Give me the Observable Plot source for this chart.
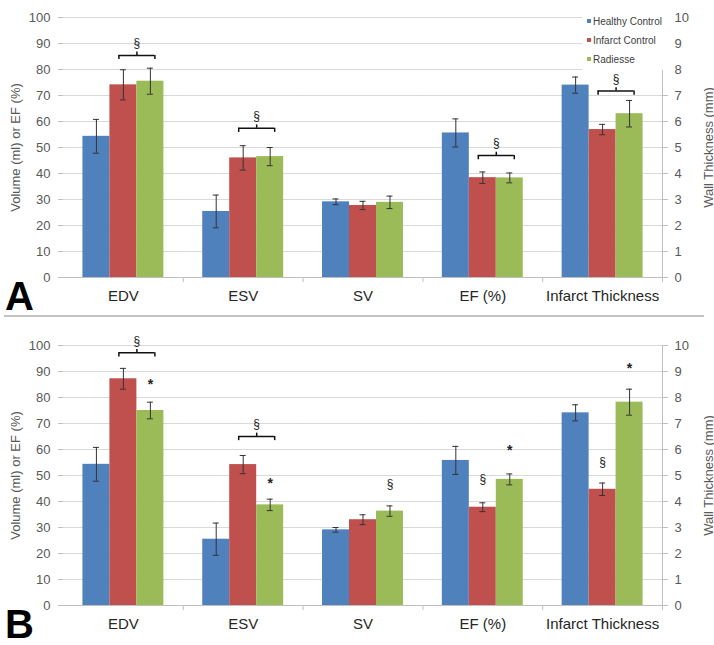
<!DOCTYPE html>
<html>
<head>
<meta charset="utf-8">
<script src="https://cdn.jsdelivr.net/npm/d3@7"></script>
<script src="https://cdn.jsdelivr.net/npm/@observablehq/plot@0.6"></script>
<style>
  html, body { margin: 0; padding: 0; background: #fff; }
  body { font-family: "Liberation Sans", Arial, sans-serif; }
  #wrap { position: relative; width: 714px; height: 645px; overflow: hidden; background: #fff; }
  #wrap svg { display: block; }
  .sep { height: 2px; background: #c4c4c4; margin: 0 10px 0 4px; }
  .letter { position: absolute; left: 5px; font: bold 40px/40px "Liberation Sans", Arial, sans-serif; color: #000; }
  .legend { position: absolute; left: 582px; top: 9px; width: 86px; height: 61px; background: #fff; }
  .legend .item { position: absolute; left: 5px; font-size: 10px; line-height: 12px; color: #404040; white-space: nowrap; }
  .legend .sw { display: inline-block; width: 4px; height: 4px; margin-right: 2px; vertical-align: 2px; }
</style>
</head>
<body>
<div id="wrap">
  <div id="panelA"></div>
  <div class="sep"></div>
  <div id="panelB"></div>
</div>
<script>
// ---- shared categories / series ----
const categories = ["EDV", "ESV", "SV", "EF (%)", "Infarct Thickness"];
const series = ["Healthy Control", "Infarct Control", "Radiesse"];
const colors = ["#4f81bd", "#c0504d", "#9bbb59"];
const yTicks = [0, 10, 20, 30, 40, 50, 60, 70, 80, 90, 100];       // Volume (ml) or EF (%)
const rightTickLabels = ["0", "1", "2", "3", "4", "5", "6", "7", "8", "9", "10"]; // Wall Thickness (mm)
const leftTitle = "Volume (ml) or EF (%)";
const rightTitle = "Wall Thickness (mm)";
const panelLetters = ["A", "B"];

// ---- Panel A (Infarct Thickness in mm) ----
const healthyA   = [54.3, 25.4, 29.1, 55.6, 7.40];
const infarctA   = [74.1, 46.0, 27.7, 38.4, 5.69];
const radiesseA  = [75.5, 46.5, 28.9, 38.3, 6.30];
const healthyErrA  = [6.5, 6.3, 1.1, 5.4, 0.31];
const infarctErrA  = [5.8, 4.7, 1.6, 2.2, 0.20];
const radiesseErrA = [5.0, 3.5, 2.4, 1.9, 0.51];
const bracketCatsA = ["EDV", "ESV", "EF (%)", "Infarct Thickness"];
const bracketYA    = [85.4, 57.4, 46.9, 7.17];

// ---- Panel B ----
const healthyB   = [54.3, 25.5, 29.1, 55.8, 7.41];
const infarctB   = [87.2, 54.2, 33.0, 37.8, 4.47];
const radiesseB  = [75.0, 38.7, 36.3, 48.5, 7.82];
const healthyErrB  = [6.5, 6.2, 0.9, 5.4, 0.31];
const infarctErrB  = [4.0, 3.5, 1.9, 1.7, 0.24];
const radiesseErrB = [3.2, 2.2, 2.0, 2.1, 0.50];
const bracketCatsB = ["EDV", "ESV"];
const bracketYB    = [97.2, 65.0];
const markCatsB   = ["EDV", "ESV", "SV", "EF (%)", "EF (%)", "Infarct Thickness", "Infarct Thickness"];
const markSeriesB = ["Radiesse", "Radiesse", "Radiesse", "Infarct Control", "Radiesse", "Infarct Control", "Radiesse"];
const markYB      = [86.5, 48.3, 46.8, 48.7, 61.3, 5.51, 9.26];
const markLabelB  = ["*", "*", "§", "§", "*", "§", "*"];

// Infarct Thickness (mm) is read on the right axis: 1 mm = 10 left-axis units
const factor = (cat) => (cat === categories[4] ? 10 : 1);

function buildRows(vals, errs) {
  const out = [];
  categories.forEach((c, ci) => {
    series.forEach((s, si) => {
      const k = factor(c), v = vals[si][ci], e = errs[si][ci];
      out.push({cat: c, series: s, value: v * k, lo: (v - e) * k, hi: (v + e) * k});
    });
  });
  return out;
}
const buildBrackets = (cats, ys) => cats.map((c, i) => ({cat: c, y: ys[i] * factor(c)}));
const buildMarks = (cats, ser, ys, labels) =>
  cats.map((c, i) => ({cat: c, series: ser[i], y: ys[i] * factor(c), label: labels[i]}));

const W = 714, ML = 63, MR = 52;
const pad = 0.72;
const facetW = (W - ML - MR) / categories.length;
const step = facetW / (series.length + 2 * pad);
const edgeDx = step / 2 + pad * step; // from last bar centre to facet edge
const ink = "#333333";

function panel({rows, brackets, notes, height, marginTop, marginBottom}) {
  const marks = [
    Plot.ruleY(yTicks.slice(1), {y: d => d, stroke: "#d9d9d9"}),
    Plot.ruleY([0], {y: d => d, stroke: "#bfbfbf"}),
    Plot.ruleX(categories.slice(0, 4), {fx: d => d, x: () => series[2], y1: 0, y2: -2, dx: edgeDx, stroke: "#bfbfbf"}),
    Plot.ruleX(categories.slice(4), {fx: d => d, x: () => series[2], y1: -2, y2: 100, dx: edgeDx, stroke: "#bfbfbf"}),
    Plot.barY(rows, {fx: "cat", x: "series", y: "value", fill: "series"}),
    Plot.ruleX(rows, {fx: "cat", x: "series", y1: "lo", y2: "hi", stroke: ink, strokeWidth: 1}),
    Plot.tickY(rows, {fx: "cat", x: "series", y: "lo", stroke: ink, insetLeft: 10.5, insetRight: 10.5}),
    Plot.tickY(rows, {fx: "cat", x: "series", y: "hi", stroke: ink, insetLeft: 10.5, insetRight: 10.5}),
    // brackets
    Plot.ruleY(brackets, {fx: "cat", x1: () => series[1], x2: () => series[2], y: "y", insetLeft: 9, insetRight: 9, stroke: "#111", strokeWidth: 1.5}),
    Plot.ruleX(brackets, {fx: "cat", x: () => series[1], y1: "y", y2: d => d.y - 1.6, dx: -4.5, stroke: "#111", strokeWidth: 1.5}),
    Plot.ruleX(brackets, {fx: "cat", x: () => series[2], y1: "y", y2: d => d.y - 1.6, dx: 4.5, stroke: "#111", strokeWidth: 1.5}),
    Plot.ruleX(brackets, {fx: "cat", x: () => series[2], y1: "y", y2: d => d.y + 1.3, dx: -step / 2, stroke: "#111", strokeWidth: 1.5}),
    Plot.text(brackets, {fx: "cat", x: () => series[2], y: "y", dx: -step / 2, dy: -12, text: () => "§", fontSize: 12, fill: "#222"}),
    // significance notes
    Plot.text(notes.filter(d => d.label === "§"), {fx: "cat", x: "series", y: "y", text: "label", fontSize: 12, fill: "#222"}),
    Plot.text(notes.filter(d => d.label === "*"), {fx: "cat", x: "series", y: "y", text: "label", dy: 4, fontSize: 14, fontWeight: "bold", fill: "#222"}),
    // axes
    Plot.axisY({anchor: "left", ticks: yTicks, tickSize: 5, tickPadding: 8, fontSize: 13, stroke: "#bfbfbf", fill: "#595959",
      label: leftTitle, labelAnchor: "center", labelArrow: "none", labelOffset: 53}),
    Plot.axisY({anchor: "right", ticks: yTicks, tickFormat: (d) => rightTickLabels[yTicks.indexOf(d)], tickSize: 5, tickPadding: 7,
      fontSize: 13, stroke: "#bfbfbf", fill: "#595959", label: rightTitle, labelAnchor: "center", labelArrow: "none", labelOffset: 50}),
    Plot.axisFx({anchor: "bottom", tickSize: 0, tickPadding: 13, fontSize: 15, fill: "#262626", label: null})
  ];
  return Plot.plot({
    width: W, height, marginLeft: ML, marginRight: MR, marginTop, marginBottom,
    style: {fontFamily: "Liberation Sans, Arial, sans-serif", background: "#fff", overflow: "visible"},
    fx: {domain: categories, padding: 0, round: false},
    x: {domain: series, paddingInner: 0, paddingOuter: pad, round: false, axis: null},
    y: {domain: [0, 100]},
    color: {domain: series, range: colors},
    marks
  });
}

const rowsA = buildRows([healthyA, infarctA, radiesseA], [healthyErrA, infarctErrA, radiesseErrA]);
const rowsB = buildRows([healthyB, infarctB, radiesseB], [healthyErrB, infarctErrB, radiesseErrB]);

const pA = panel({rows: rowsA, brackets: buildBrackets(bracketCatsA, bracketYA), notes: [], height: 315, marginTop: 17, marginBottom: 38});
const pB = panel({rows: rowsB, brackets: buildBrackets(bracketCatsB, bracketYB),
  notes: buildMarks(markCatsB, markSeriesB, markYB, markLabelB), height: 328, marginTop: 28, marginBottom: 40});
document.getElementById("panelA").appendChild(pA);
document.getElementById("panelB").appendChild(pB);

// legend (inside panel A, top right)
const wrap = document.getElementById("wrap");
const leg = document.createElement("div");
leg.className = "legend";
series.forEach((s, i) => {
  const it = document.createElement("div");
  it.className = "item";
  it.style.top = (7 + i * 19) + "px";
  const sw = document.createElement("span");
  sw.className = "sw";
  sw.style.background = colors[i];
  it.appendChild(sw);
  it.appendChild(document.createTextNode(s));
  leg.appendChild(it);
});
wrap.appendChild(leg);

// panel letters
[[panelLetters[0], 276], [panelLetters[1], 604]].forEach(([t, top]) => {
  const d = document.createElement("div");
  d.className = "letter";
  d.style.top = top + "px";
  d.textContent = t;
  wrap.appendChild(d);
});
</script>
</body>
</html>
